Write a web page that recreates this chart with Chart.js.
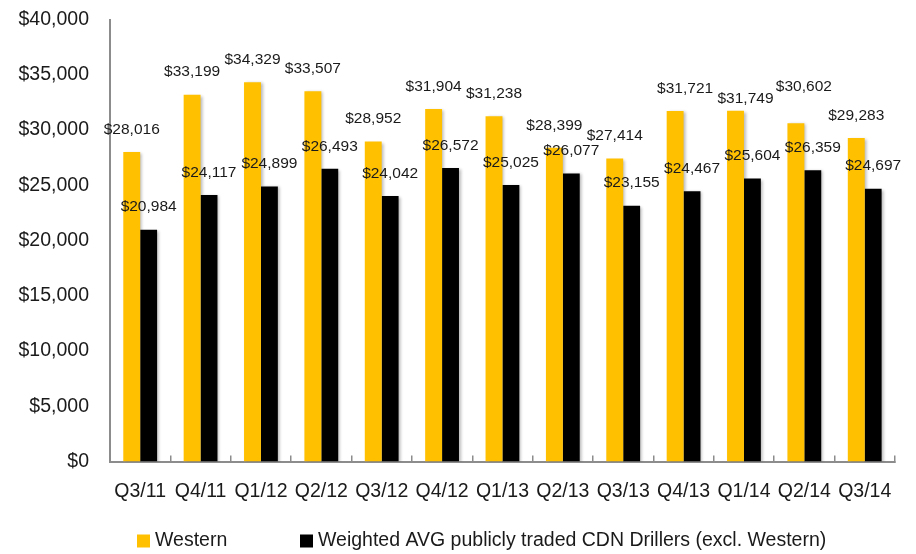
<!DOCTYPE html>
<html>
<head>
<meta charset="utf-8">
<script src="https://cdn.jsdelivr.net/npm/chart.js@4.4.1/dist/chart.umd.min.js"></script>
<style>
    html, body { margin: 0; padding: 0; background: #ffffff; }
</style>
</head>
<body>
<canvas id="grafico-barras" width="916" height="554"></canvas>
<script>
// Datos por trimestre
const trimestres = ['Q3/11', 'Q4/11', 'Q1/12', 'Q2/12', 'Q3/12', 'Q4/12', 'Q1/13',
                    'Q2/13', 'Q3/13', 'Q4/13', 'Q1/14', 'Q2/14', 'Q3/14'];
const valoresWestern = [28016, 33199, 34329, 33507, 28952, 31904, 31238,
                        28399, 27414, 31721, 31749, 30602, 29283];
const valoresPromedioCDN = [20984, 24117, 24899, 26493, 24042, 26572, 25025,
                            26077, 23155, 24467, 25604, 26359, 24697];
const nombresSeries = ['Western', 'Weighted AVG publicly traded CDN Drillers (excl. Western)'];

const fuente = "'Liberation Sans', Arial, sans-serif";
const colorTexto = '#1a1a1a';
const colorEje = '#8c8c8c';

// Corrimientos manuales de algunas etiquetas [dx, dy] por serie e índice
const ajustesEtiquetas = [
    { 9: [10, 0], 10: [10, 10.5], 11: [8, -14] },
    {}
];

window.onload = initGrafico;

function formatoDolar(valor) {
    return '$' + valor.toLocaleString('en-US');
}

// Sombra suave en las barras y etiquetas de valor encima de cada una
const etiquetasValores = {
    id: 'etiquetasValores',
    beforeDatasetsDraw(chart) {
        const ctx = chart.ctx;
        ctx.save();
        ctx.shadowColor = 'rgba(0, 0, 0, 0.28)';
        ctx.shadowOffsetX = 2;
        ctx.shadowOffsetY = 1;
        ctx.shadowBlur = 3;
    },
    afterDatasetsDraw(chart) {
        const ctx = chart.ctx;
        ctx.restore();
        ctx.save();
        ctx.font = '15.5px ' + fuente;
        ctx.fillStyle = colorTexto;
        ctx.textAlign = 'center';
        ctx.textBaseline = 'middle';
        chart.data.datasets.forEach(function (ds, i) {
            chart.getDatasetMeta(i).data.forEach(function (barra, j) {
                const ajuste = ajustesEtiquetas[i][j] || [0, 0];
                ctx.fillText(formatoDolar(ds.data[j]), barra.x + ajuste[0], barra.y - 22.5 + ajuste[1]);
            });
        });
        ctx.restore();
    }
};

// Leyenda inferior dibujada a mano
const leyendaInferior = {
    id: 'leyendaInferior',
    afterDraw(chart) {
        const ctx = chart.ctx;
        const posiciones = [137, 300];
        const caja = 13;
        const y = 541;
        ctx.save();
        ctx.font = '19.5px ' + fuente;
        ctx.textBaseline = 'middle';
        chart.data.datasets.forEach(function (ds, i) {
            const x = posiciones[i];
            ctx.fillStyle = ds.backgroundColor;
            ctx.fillRect(x, y - caja / 2, caja, caja);
            ctx.fillStyle = colorTexto;
            ctx.fillText(ds.label, x + caja + 5, y);
        });
        ctx.restore();
    }
};

function initGrafico() {
    const ctx = document.getElementById('grafico-barras').getContext('2d');
    new Chart(ctx, {
        type: 'bar',
        data: {
            labels: trimestres,
            datasets: [{
                label: nombresSeries[0],
                data: valoresWestern,
                backgroundColor: '#FFC000'
            }, {
                label: nombresSeries[1],
                data: valoresPromedioCDN,
                backgroundColor: '#000000'
            }]
        },
        options: {
            responsive: false,
            animation: false,
            layout: { padding: { top: 19.5, right: 19, bottom: 27, left: 0 } },
            datasets: {
                bar: { categoryPercentage: 0.56, barPercentage: 1.0 }
            },
            scales: {
                x: {
                    grid: {
                        display: true,
                        offset: true,
                        drawOnChartArea: false,
                        drawTicks: true,
                        tickLength: -6,
                        color: colorEje,
                        lineWidth: 1.5
                    },
                    border: { display: true, color: colorEje, width: 2 },
                    ticks: {
                        autoSkip: false,
                        maxRotation: 0,
                        padding: 24,
                        color: colorTexto,
                        font: { family: fuente, size: 19.5 }
                    }
                },
                y: {
                    min: 0,
                    max: 40000,
                    afterFit: function (escala) {
                        escala.width = 110;
                        escala.paddingTop = 0;
                    },
                    grid: { display: false, drawTicks: false },
                    border: { display: true, color: colorEje, width: 2 },
                    ticks: {
                        stepSize: 5000,
                        padding: 21,
                        color: colorTexto,
                        font: { family: fuente, size: 19.5 },
                        callback: function (valor) { return formatoDolar(valor); }
                    }
                }
            },
            plugins: {
                legend: { display: false },
                tooltip: { enabled: false }
            }
        },
        plugins: [etiquetasValores, leyendaInferior]
    });
}
</script>
</body>
</html>
